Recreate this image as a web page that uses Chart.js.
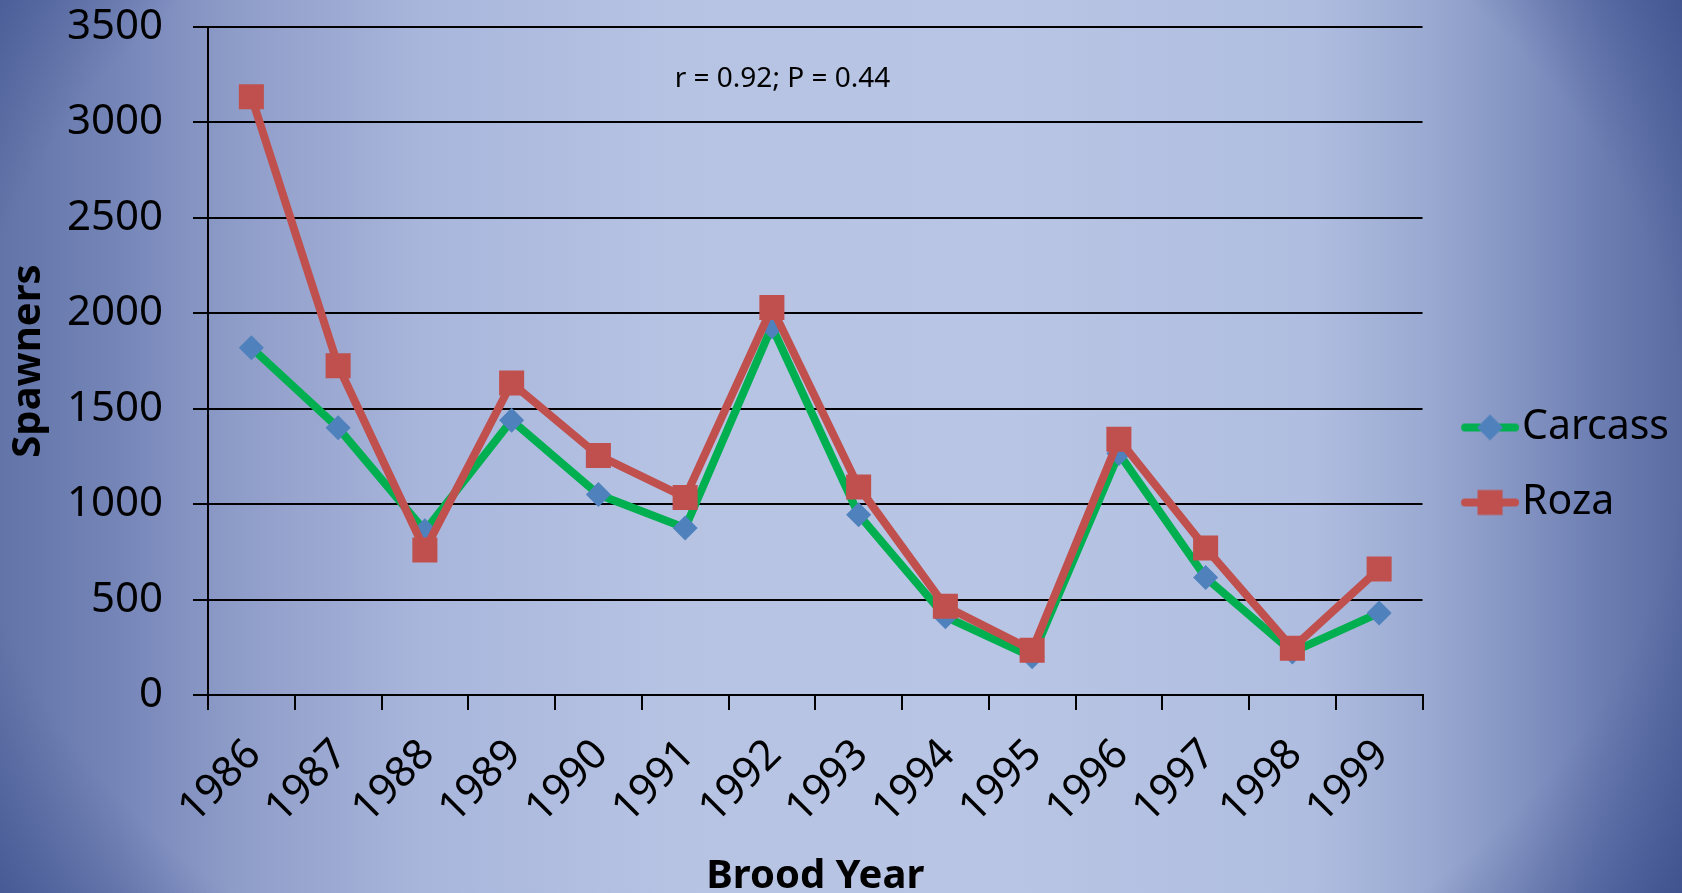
<!DOCTYPE html>
<html>
<head>
<meta charset="utf-8">
<script src="https://cdn.jsdelivr.net/npm/chart.js@4.4.1/dist/chart.umd.min.js"></script>
<style>
  html, body { margin: 0; padding: 0; overflow: hidden; background: #6677aa; }
  canvas { display: block; }
</style>
</head>
<body>
<canvas id="spawnChart" width="1682" height="893"></canvas>
<script>
// Données
const broodYears = ['1986', '1987', '1988', '1989', '1990', '1991', '1992', '1993', '1994', '1995', '1996', '1997', '1998', '1999'];
const carcassCounts = [1820, 1400, 860, 1440, 1050, 875, 1930, 945, 410, 200, 1265, 615, 225, 430];
const rozaCounts = [3135, 1725, 760, 1635, 1255, 1035, 2030, 1090, 465, 235, 1340, 770, 245, 660];
const yMin = 0;
const yMax = 3500;
const yStep = 500;
const statsNote = 'r = 0.92; P = 0.44';

const FONT = "'Noto Sans', 'DejaVu Sans', sans-serif";

// petite icône de légende : trait + marqueur (style Excel)
function makeLegendIcon(lineColor, markerColor, marker) {
  const c = document.createElement('canvas');
  c.width = 82;
  c.height = 40;
  const g = c.getContext('2d');
  g.strokeStyle = lineColor;
  g.lineWidth = 8;
  g.lineCap = 'round';
  g.beginPath();
  g.moveTo(27, 20);
  g.lineTo(77, 20);
  g.stroke();
  g.fillStyle = markerColor;
  const cx = 52;
  if (marker === 'diamond') {
    g.beginPath();
    g.moveTo(cx, 7);
    g.lineTo(cx + 13, 20);
    g.lineTo(cx, 33);
    g.lineTo(cx - 13, 20);
    g.closePath();
    g.fill();
  } else {
    g.fillRect(cx - 12.5, 7.5, 25, 25);
  }
  return c;
}

const legendIcons = [
  makeLegendIcon('#00b050', '#4f81bd', 'diamond'),
  makeLegendIcon('#c0504d', '#c0504d', 'square')
];

// fond dégradé bleu
const backgroundPlugin = {
  id: 'slideBackground',
  beforeDraw(chart) {
    const {ctx, width, height} = chart;
    ctx.save();
    const lin = ctx.createLinearGradient(0, 0, width, 0);
    lin.addColorStop(0, '#6274a8');
    lin.addColorStop(0.07, '#7585b8');
    lin.addColorStop(0.14, '#8e9cc8');
    lin.addColorStop(0.25, '#a8b6dc');
    lin.addColorStop(0.4, '#b6c3e3');
    lin.addColorStop(0.6, '#b8c5e4');
    lin.addColorStop(0.78, '#afbde0');
    lin.addColorStop(0.85, '#9aa9d1');
    lin.addColorStop(0.9, '#8595c3');
    lin.addColorStop(0.95, '#6d7eb3');
    lin.addColorStop(1, '#5a6ca2');
    ctx.fillStyle = lin;
    ctx.fillRect(0, 0, width, height);

    // assombrir les coins
    ctx.translate(width * 0.49, height * 0.48);
    ctx.scale(1, 0.75);
    const rad = ctx.createRadialGradient(0, 0, 0, 0, 0, 1100);
    rad.addColorStop(0, 'rgba(45,65,130,0)');
    rad.addColorStop(0.78, 'rgba(45,65,130,0)');
    rad.addColorStop(1, 'rgba(45,65,130,0.7)');
    ctx.fillStyle = rad;
    ctx.fillRect(-width, -height * 2, width * 2, height * 4);
    ctx.restore();
  }
};

// texte r / P dans la zone du graphique
const notePlugin = {
  id: 'statsNote',
  afterDraw(chart) {
    const {ctx, chartArea, scales} = chart;
    const x = chartArea.left + (chartArea.right - chartArea.left) * 0.473;
    const y = scales.y.getPixelForValue(3230);
    ctx.save();
    ctx.font = '28px ' + FONT;
    ctx.fillStyle = '#000';
    ctx.textAlign = 'center';
    ctx.textBaseline = 'middle';
    ctx.fillText(statsNote, x, y);
    ctx.restore();
  }
};

Chart.defaults.font.family = FONT;
Chart.defaults.color = '#000';

new Chart(document.getElementById('spawnChart'), {
  type: 'line',
  data: {
    labels: broodYears,
    datasets: [
      {
        label: 'Carcass',
        data: carcassCounts,
        borderColor: '#00b050',
        borderWidth: 8,
        backgroundColor: '#4f81bd',
        pointStyle: 'rectRot',
        pointRadius: 12.5,
        pointBorderWidth: 0,
        pointBackgroundColor: '#4f81bd',
        tension: 0,
        order: 1
      },
      {
        label: 'Roza',
        data: rozaCounts,
        borderColor: '#c0504d',
        borderWidth: 8,
        backgroundColor: '#c0504d',
        pointStyle: 'rect',
        pointRadius: 17.7,
        pointBorderWidth: 0,
        pointBackgroundColor: '#c0504d',
        tension: 0,
        order: 0
      }
    ]
  },
  options: {
    responsive: false,
    animation: false,
    devicePixelRatio: 1,
    layout: {
      padding: { top: 0, right: 3, bottom: 0, left: 0 }
    },
    scales: {
      x: {
        type: 'category',
        offset: true,
        afterFit: (scale) => { scale.height = 198; },
        grid: {
          display: true,
          offset: true,
          drawOnChartArea: false,
          drawTicks: true,
          tickLength: 15,
          color: '#000',
          lineWidth: 2
        },
        border: { display: true, color: '#000', width: 2 },
        ticks: {
          font: { size: 42 },
          color: '#000',
          minRotation: 45,
          maxRotation: 45,
          autoSkip: false,
          padding: 20,
          labelOffset: 3
        },
        title: {
          display: true,
          text: 'Brood Year',
          font: { size: 40, weight: 'bold', lineHeight: 1 },
          color: '#000',
          padding: { top: 0, bottom: -4 }
        }
      },
      y: {
        min: yMin,
        max: yMax,
        afterFit: (scale) => {
          scale.width = 208;
          // le haut de la zone du graphique tombe à 27 px du bord
          scale.paddingTop = 27;
          scale.paddingBottom = 0;
        },
        grid: {
          color: '#000',
          lineWidth: 2,
          tickLength: 15
        },
        border: { display: true, color: '#000', width: 2 },
        ticks: {
          stepSize: yStep,
          font: { size: 42 },
          color: '#000',
          padding: 30,
          callback: (v) => String(v)
        },
        title: {
          display: true,
          text: 'Spawners',
          font: { size: 40, weight: 'bold', lineHeight: 1 },
          color: '#000',
          padding: { top: 9, bottom: 9 }
        }
      }
    },
    plugins: {
      legend: {
        display: true,
        position: 'right',
        align: 'center',
        title: {
          display: true,
          text: '',
          font: { size: 29, lineHeight: 1 },
          padding: { top: 4, bottom: 4 }
        },
        labels: {
          usePointStyle: true,
          pointStyleWidth: 45,
          padding: 34,
          font: { size: 41 },
          color: '#000',
          sort: (a, b) => a.datasetIndex - b.datasetIndex,
          generateLabels: (chart) => {
            const items = Chart.defaults.plugins.legend.labels.generateLabels(chart);
            items.forEach((it) => { it.pointStyle = legendIcons[it.datasetIndex]; });
            return items;
          }
        }
      },
      tooltip: { enabled: false }
    }
  },
  plugins: [backgroundPlugin, notePlugin]
});
</script>
</body>
</html>
